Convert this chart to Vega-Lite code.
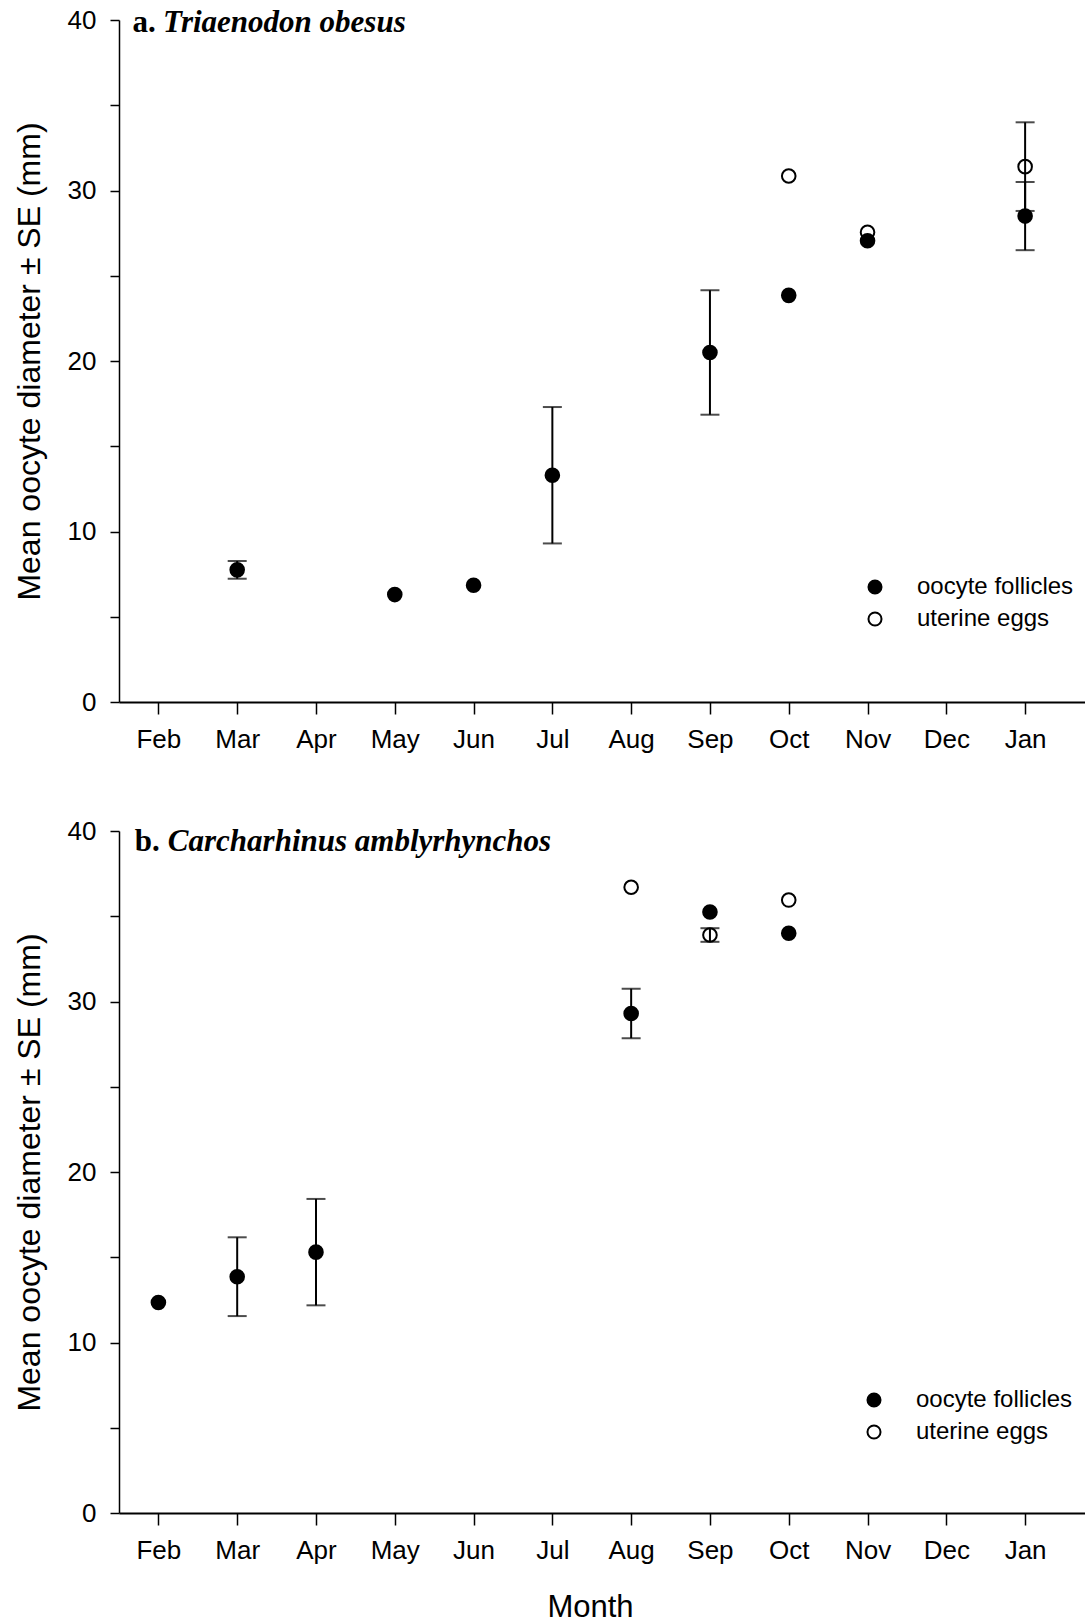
{
  "$schema": "https://vega.github.io/schema/vega-lite/v6.json",
  "background": "white",
  "padding": {"left": 13, "top": 6, "right": 0, "bottom": 0},
  "config": {
    "view": {"stroke": null},
    "font": "Liberation Sans",
    "concat": {"spacing": 66},
    "axis": {
      "grid": false,
      "domainColor": "black",
      "tickColor": "black",
      "labelColor": "black",
      "titleColor": "black",
      "labelFont": "Liberation Sans",
      "titleFont": "Liberation Sans",
      "labelFontSize": 26,
      "titleFontWeight": "normal"
    }
  },
  "datasets": {
    "a": [
      {"month": 9, "mean": 30.85, "se": null, "type": "uterine eggs"},
      {"month": 10, "mean": 27.55, "se": null, "type": "uterine eggs"},
      {"month": 12, "mean": 31.4, "se": 2.6, "type": "uterine eggs"},
      {"month": 2, "mean": 7.75, "se": 0.52, "type": "oocyte follicles"},
      {"month": 4, "mean": 6.3, "se": null, "type": "oocyte follicles"},
      {"month": 5, "mean": 6.85, "se": null, "type": "oocyte follicles"},
      {"month": 6, "mean": 13.3, "se": 4.0, "type": "oocyte follicles"},
      {"month": 8, "mean": 20.5, "se": 3.65, "type": "oocyte follicles"},
      {"month": 9, "mean": 23.85, "se": null, "type": "oocyte follicles"},
      {"month": 10, "mean": 27.05, "se": null, "type": "oocyte follicles"},
      {"month": 12, "mean": 28.5, "se": 2.0, "type": "oocyte follicles"}
    ],
    "b": [
      {"month": 7, "mean": 36.7, "se": null, "type": "uterine eggs"},
      {"month": 8, "mean": 33.9, "se": 0.4, "type": "uterine eggs"},
      {"month": 9, "mean": 35.95, "se": null, "type": "uterine eggs"},
      {"month": 1, "mean": 12.35, "se": null, "type": "oocyte follicles"},
      {"month": 2, "mean": 13.86, "se": 2.31, "type": "oocyte follicles"},
      {"month": 3, "mean": 15.3, "se": 3.12, "type": "oocyte follicles"},
      {"month": 7, "mean": 29.3, "se": 1.45, "type": "oocyte follicles"},
      {"month": 8, "mean": 35.25, "se": null, "type": "oocyte follicles"},
      {"month": 9, "mean": 34.0, "se": null, "type": "oocyte follicles"}
    ]
  },
  "resolve": {"scale": {"fill": "independent"}, "legend": {"fill": "independent"}},
  "vconcat": [
    {
      "width": 966,
      "height": 682,
      "layer": [
        {
          "data": {"name": "a"},
          "mark": {"type": "point", "shape": "circle", "size": 185, "stroke": "black", "strokeWidth": 2, "opacity": 1, "filled": false},
          "encoding": {
            "x": {
              "field": "month",
              "type": "quantitative",
              "scale": {"domain": [0.5, 12.76], "nice": false, "zero": false},
              "axis": {
                "title": null,
                "values": [1, 2, 3, 4, 5, 6, 7, 8, 9, 10, 11, 12],
                "labelExpr": "['Feb','Mar','Apr','May','Jun','Jul','Aug','Sep','Oct','Nov','Dec','Jan'][datum.value - 1]",
                "tickSize": 12,
                "labelPadding": 12,
                "domainWidth": 2,
                "tickWidth": 1.5,
                "labelFlush": false,
                "labelOverlap": false
              }
            },
            "y": {
              "field": "mean",
              "type": "quantitative",
              "scale": {"domain": [0, 40], "nice": false},
              "axis": {
                "title": "Mean oocyte diameter ± SE (mm)",
                "titleFontSize": 32,
                "titlePadding": 21,
                "values": [0, 5, 10, 15, 20, 25, 30, 35, 40],
                "labelExpr": "datum.value % 10 == 0 ? datum.label : ''",
                "tickSize": 9,
                "labelPadding": 14,
                "domainWidth": 1.5,
                "tickWidth": 1.5
              }
            },
            "fill": {
              "field": "type",
              "type": "nominal",
              "scale": {"domain": ["oocyte follicles", "uterine eggs"], "range": ["black", "white"]},
              "legend": {
                "orient": "none",
                "legendX": 744,
                "legendY": 555,
                "title": null,
                "padding": 0,
                "symbolType": "circle",
                "symbolSize": 170,
                "symbolStrokeColor": "black",
                "symbolStrokeWidth": 2,
                "labelFontSize": 24,
                "labelFont": "Liberation Sans",
                "labelColor": "black",
                "labelOffset": 30,
                "rowPadding": 8
              }
            }
          }
        },
        {
          "data": {"name": "a"},
          "transform": [{"filter": "isValid(datum.se)"}],
          "mark": {"type": "errorbar", "ticks": true, "size": 19, "thickness": 2, "color": "black"},
          "encoding": {
            "x": {"field": "month", "type": "quantitative"},
            "y": {"field": "mean", "type": "quantitative", "title": "Mean oocyte diameter ± SE (mm)"},
            "yError": {"field": "se"}
          }
        },
        {
          "data": {"values": [{"t": "a."}]},
          "mark": {"type": "text", "font": "Liberation Serif", "fontWeight": "bold", "fontSize": 31, "align": "left", "baseline": "alphabetic", "color": "black"},
          "encoding": {"x": {"datum": 0.67}, "y": {"datum": 39.3}, "text": {"field": "t", "type": "nominal"}}
        },
        {
          "data": {"values": [{"t": "Triaenodon obesus"}]},
          "mark": {"type": "text", "font": "Liberation Serif", "fontWeight": "bold", "fontStyle": "italic", "fontSize": 31, "align": "left", "baseline": "alphabetic", "color": "black"},
          "encoding": {"x": {"datum": 1.06}, "y": {"datum": 39.3}, "text": {"field": "t", "type": "nominal"}}
        }
      ]
    },
    {
      "width": 966,
      "height": 682,
      "layer": [
        {
          "data": {"name": "b"},
          "mark": {"type": "point", "shape": "circle", "size": 185, "stroke": "black", "strokeWidth": 2, "opacity": 1, "filled": false},
          "encoding": {
            "x": {
              "field": "month",
              "type": "quantitative",
              "scale": {"domain": [0.5, 12.76], "nice": false, "zero": false},
              "axis": {
                "title": "Month",
                "titleFontSize": 31,
                "titlePadding": 29,
                "titleX": 471,
                "values": [1, 2, 3, 4, 5, 6, 7, 8, 9, 10, 11, 12],
                "labelExpr": "['Feb','Mar','Apr','May','Jun','Jul','Aug','Sep','Oct','Nov','Dec','Jan'][datum.value - 1]",
                "tickSize": 12,
                "labelPadding": 12,
                "domainWidth": 2,
                "tickWidth": 1.5,
                "labelFlush": false,
                "labelOverlap": false
              }
            },
            "y": {
              "field": "mean",
              "type": "quantitative",
              "scale": {"domain": [0, 40], "nice": false},
              "axis": {
                "title": "Mean oocyte diameter ± SE (mm)",
                "titleFontSize": 32,
                "titlePadding": 21,
                "values": [0, 5, 10, 15, 20, 25, 30, 35, 40],
                "labelExpr": "datum.value % 10 == 0 ? datum.label : ''",
                "tickSize": 9,
                "labelPadding": 14,
                "domainWidth": 1.5,
                "tickWidth": 1.5
              }
            },
            "fill": {
              "field": "type",
              "type": "nominal",
              "scale": {"domain": ["oocyte follicles", "uterine eggs"], "range": ["black", "white"]},
              "legend": {
                "orient": "none",
                "legendX": 743,
                "legendY": 557,
                "title": null,
                "padding": 0,
                "symbolType": "circle",
                "symbolSize": 170,
                "symbolStrokeColor": "black",
                "symbolStrokeWidth": 2,
                "labelFontSize": 24,
                "labelFont": "Liberation Sans",
                "labelColor": "black",
                "labelOffset": 30,
                "rowPadding": 8
              }
            }
          }
        },
        {
          "data": {"name": "b"},
          "transform": [{"filter": "isValid(datum.se)"}],
          "mark": {"type": "errorbar", "ticks": true, "size": 19, "thickness": 2, "color": "black"},
          "encoding": {
            "x": {"field": "month", "type": "quantitative", "title": "Month"},
            "y": {"field": "mean", "type": "quantitative", "title": "Mean oocyte diameter ± SE (mm)"},
            "yError": {"field": "se"}
          }
        },
        {
          "data": {"values": [{"t": "b."}]},
          "mark": {"type": "text", "font": "Liberation Serif", "fontWeight": "bold", "fontSize": 31, "align": "left", "baseline": "alphabetic", "color": "black"},
          "encoding": {"x": {"datum": 0.7}, "y": {"datum": 38.8}, "text": {"field": "t", "type": "nominal"}}
        },
        {
          "data": {"values": [{"t": "Carcharhinus amblyrhynchos"}]},
          "mark": {"type": "text", "font": "Liberation Serif", "fontWeight": "bold", "fontStyle": "italic", "fontSize": 31, "align": "left", "baseline": "alphabetic", "color": "black"},
          "encoding": {"x": {"datum": 1.12}, "y": {"datum": 38.8}, "text": {"field": "t", "type": "nominal"}}
        }
      ]
    }
  ]
}
